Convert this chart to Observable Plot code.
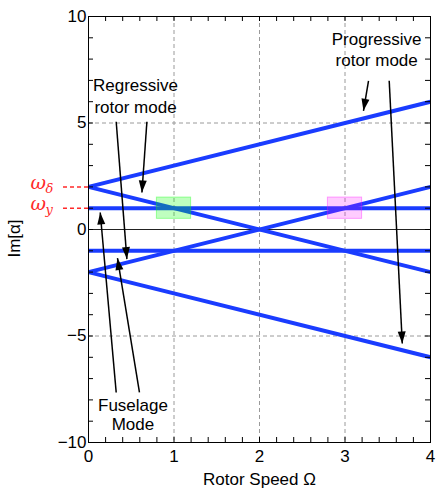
<!DOCTYPE html>
<html>
<head>
<meta charset="utf-8">
<script src="https://cdn.jsdelivr.net/npm/d3@7"></script>
<script src="https://cdn.jsdelivr.net/npm/@observablehq/plot@0.6"></script>
<style>
  html, body { margin: 0; padding: 0; background: #fff; }
  #chart { width: 436px; height: 490px; }
</style>
</head>
<body>
<div id="chart"></div>
<script>
// ---- data ----
const speed = [0, 4];                 // rotor speed Ω endpoints
const progUpper = [2, 6];             // ω_δ + Ω
const regUpper = [2, -2];             // ω_δ − Ω
const regLower = [-2, 2];             // −ω_δ + Ω
const progLower = [-2, -6];           // −ω_δ − Ω
const fuselageUpper = [1, 1];         // ω_y
const fuselageLower = [-1, -1];       // −ω_y

const freqLevels = [2, 1];
const freqNames = ["δ", "y"];

// highlight boxes
const boxX1 = [0.8, 2.8];
const boxX2 = [1.2, 3.2];
const boxY1 = [0.5, 0.5];
const boxY2 = [1.5, 1.5];
const boxColors = ["#00ff00", "#ff00ff"];
const boxOpacity = [0.25, 0.2];

// annotation text lines
const noteText = ["Regressive", "rotor mode", "Progressive", "rotor mode", "Fuselage", "Mode"];
const noteX = [0.55, 0.55, 3.37, 3.37, 0.52, 0.52];
const noteY = [6.77, 5.72, 8.92, 7.94, -8.26, -9.16];

// annotation arrows (from → to)
const arrowX1 = [0.683, 0.324, 0.324, 0.596, 3.275, 3.517];
const arrowY1 = [5.06, 5.06, -7.65, -7.65, 6.98, 6.98];
const arrowX2 = [0.625, 0.449, 0.137, 0.339, 3.216, 3.67];
const arrowY2 = [1.74, -1.39, 0.80, -1.34, 5.57, -5.35];

// ticks and grid
const xTicks = [0, 1, 2, 3, 4];
const yTicks = [-10, -5, 0, 5, 10];
const xMinor = [0, 0.2, 0.4, 0.6, 0.8, 1, 1.2, 1.4, 1.6, 1.8, 2, 2.2, 2.4, 2.6, 2.8, 3, 3.2, 3.4, 3.6, 3.8, 4];
const yMinor = [-10, -9, -8, -7, -6, -5, -4, -3, -2, -1, 0, 1, 2, 3, 4, 5, 6, 7, 8, 9, 10];
const xGrid = [1, 2, 3];
const yGrid = [-5, 5];

// ---- tables ----
const series = [progUpper, regUpper, regLower, progLower, fuselageUpper, fuselageLower];
const lineRows = series.flatMap((ys, k) => speed.map((s, i) => ({k, x: s, y: ys[i]})));
const boxes = boxX1.map((_, i) => ({x1: boxX1[i], x2: boxX2[i], y1: boxY1[i], y2: boxY2[i], c: boxColors[i], o: boxOpacity[i]}));
const notes = noteText.map((t, i) => ({t, x: noteX[i], y: noteY[i]}));
const arrows = arrowX1.map((_, i) => ({x1: arrowX1[i], y1: arrowY1[i], x2: arrowX2[i], y2: arrowY2[i]}));

const W = 436, H = 490, mL = 88, mR = 6, mT = 16, mB = 48;
const frameW = W - mL - mR, frameH = H - mT - mB;
const tickLen = 5;
const font = "'Liberation Sans', Arial, Helvetica, sans-serif";
const serif = "'DejaVu Serif', 'Liberation Serif', serif";
const red = "#ff2a2a";
const blue = "#1a3cff";
const fmt = d => d < 0 ? "\u2212" + (-d) : String(d);

const chart = Plot.plot({
  width: W, height: H,
  marginLeft: mL, marginRight: mR, marginTop: mT, marginBottom: mB,
  style: {fontFamily: font, fontSize: "17px", color: "black", background: "white"},
  x: {domain: [0, 4], axis: null},
  y: {domain: [-10, 10], axis: null},
  marks: [
    Plot.ruleX(xGrid, {x: d => d, stroke: "#9a9a9a", strokeDasharray: "4,3", strokeWidth: 1}),
    Plot.ruleY(yGrid, {y: d => d, stroke: "#9a9a9a", strokeDasharray: "4,3", strokeWidth: 1}),
    Plot.ruleY([0], {stroke: "#222", strokeWidth: 1}),
    Plot.line(lineRows, {x: "x", y: "y", z: "k", stroke: blue, strokeWidth: 4, strokeLinecap: "butt"}),
    Plot.rect(boxes, {x1: "x1", x2: "x2", y1: "y1", y2: "y2", fill: "c", fillOpacity: "o", stroke: "c", strokeOpacity: 0.35, strokeWidth: 1}),
    // red dashed leaders and ω labels
    Plot.ruleY(freqLevels, {y: d => d, x1: 0, x2: 0, insetLeft: -25, stroke: red, strokeWidth: 1.5, strokeDasharray: "4,3"}),
    Plot.text(freqLevels, {x: 0, y: d => d, text: () => "ω", dx: -58, dy: -4, textAnchor: "start", lineAnchor: "middle",
      fontSize: 19, fontStyle: "italic", fontFamily: serif, fill: red}),
    Plot.text(freqLevels, {x: 0, y: d => d, text: (d, i) => freqNames[i], dx: -43, dy: 2, textAnchor: "start", lineAnchor: "middle",
      fontSize: 13, fontStyle: "italic", fontFamily: serif, fill: red}),
    // annotation arrows
    Plot.link(arrows, {
      x1: "x1", y1: "y1", x2: "x2", y2: "y2", stroke: "black", strokeWidth: 1.5,
      render(index, scales, values, dimensions, context, next) {
        const g = next(index, scales, values, dimensions, context);
        const X1 = values.x1, Y1 = values.y1, X2 = values.x2, Y2 = values.y2;
        const sel = d3.select(g);
        const L = 12, hw = 4;
        for (const i of index) {
          const dx = X2[i] - X1[i], dy = Y2[i] - Y1[i], len = Math.hypot(dx, dy);
          const ux = dx / len, uy = dy / len;
          const bx = X2[i] - ux * L, by = Y2[i] - uy * L;
          sel.append("path")
            .attr("d", `M${X2[i]},${Y2[i]}L${bx - uy * hw},${by + ux * hw}L${bx + uy * hw},${by - ux * hw}Z`)
            .attr("fill", "black").attr("stroke", "none");
        }
        return g;
      }
    }),
    Plot.text(notes, {x: "x", y: "y", text: "t", textAnchor: "middle", lineAnchor: "middle", fontSize: 17, fill: "black"}),
    // frame and inward ticks
    Plot.frame({stroke: "black", strokeWidth: 1}),
    Plot.tickX(xMinor, {x: d => d, insetTop: frameH - tickLen, stroke: "black"}),
    Plot.tickX(xMinor, {x: d => d, insetBottom: frameH - tickLen, stroke: "black"}),
    Plot.tickY(yMinor, {y: d => d, insetRight: frameW - tickLen, stroke: "black"}),
    Plot.tickY(yMinor, {y: d => d, insetLeft: frameW - tickLen, stroke: "black"}),
    Plot.axisX(xTicks, {tickSize: 0, tickPadding: 7, fontSize: 17, tickFormat: fmt, label: null}),
    Plot.axisY(yTicks, {tickSize: 0, tickPadding: 2, fontSize: 17, tickFormat: fmt, label: null}),
    // axis titles
    Plot.text(["Rotor Speed Ω"], {frameAnchor: "bottom", dy: 37, lineAnchor: "middle", textAnchor: "middle", fontSize: 17}),
    Plot.text(["Im[α]"], {frameAnchor: "left", dx: -74, dy: 9, rotate: -90, lineAnchor: "middle", textAnchor: "middle", fontSize: 17})
  ]
});
document.getElementById("chart").appendChild(chart);
</script>
</body>
</html>
